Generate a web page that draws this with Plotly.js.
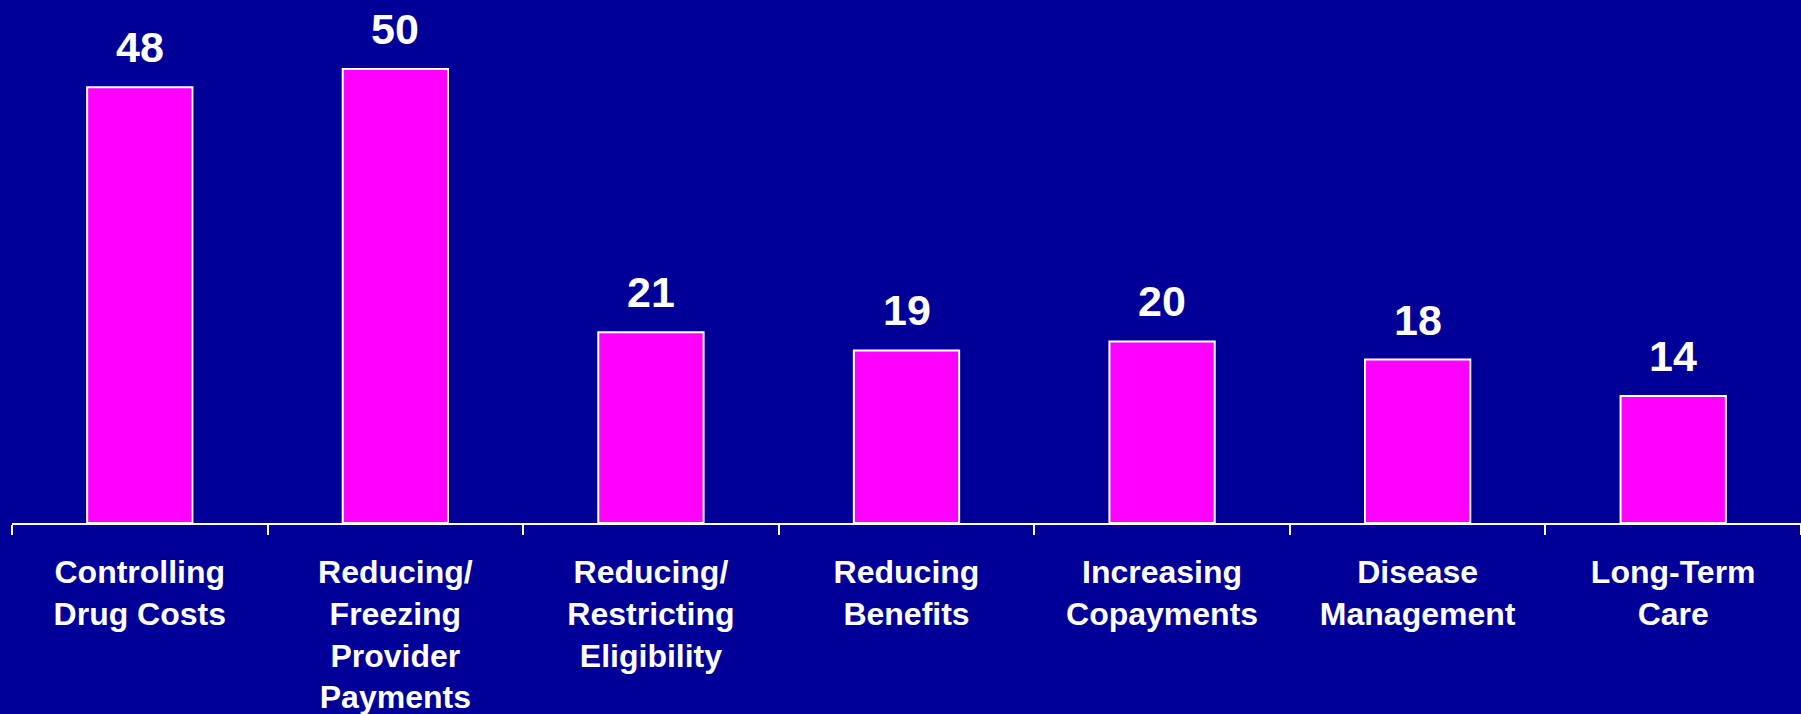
<!DOCTYPE html>
<html>
<head>
<meta charset="utf-8">
<script src="https://cdn.plot.ly/plotly-3.0.1.min.js"></script>
<style>html,body{margin:0;padding:0;background:#000099;overflow:hidden;}#chart{width:1801px;height:714px;}</style>
</head>
<body>
<div id="chart"></div>
<script>
const categories = [
  "Controlling<br>Drug Costs",
  "Reducing/<br>Freezing<br>Provider<br>Payments",
  "Reducing/<br>Restricting<br>Eligibility",
  "Reducing<br>Benefits",
  "Increasing<br>Copayments",
  "Disease<br>Management",
  "Long-Term<br>Care"
];
const values = [48, 50, 21, 19, 20, 18, 14];

const annotations = categories.map((c, i) => ({
  x: c, y: values[i], text: String(values[i]),
  xref: 'x', yref: 'y', showarrow: false,
  yanchor: 'bottom', yshift: 14,
  font: {family: 'Liberation Sans, Arial, sans-serif', size: 43, color: '#ffffff', weight: 'bold'}
}));

const trace = {
  type: 'bar', x: categories, y: values,
  width: 0.412,
  marker: {color: '#ff00ff', line: {color: '#ffffff', width: 2}},
  hoverinfo: 'none', cliponaxis: false
};

const layout = {
  width: 1801, height: 714,
  margin: {l: 12, r: 0, t: 0, b: 191},
  paper_bgcolor: '#000099', plot_bgcolor: '#000099',
  showlegend: false,
  font: {family: 'Liberation Sans, Arial, sans-serif', color: '#ffffff'},
  xaxis: {
    type: 'category', tickson: 'boundaries', ticks: 'outside', ticklen: 10, tickwidth: 2, tickcolor: '#ffffff',
    showline: true, linecolor: '#ffffff', linewidth: 2, showgrid: false, zeroline: false,
    tickfont: {family: 'Liberation Sans, Arial, sans-serif', size: 32, color: '#ffffff', weight: 'bold'},
    ticklabelstandoff: 20, fixedrange: true
  },
  yaxis: {range: [0, 57.6], visible: false, showgrid: false, zeroline: false, fixedrange: true},
  annotations: annotations
};

Plotly.newPlot('chart', [trace], layout, {displayModeBar: false, staticPlot: true});
</script>
</body>
</html>
